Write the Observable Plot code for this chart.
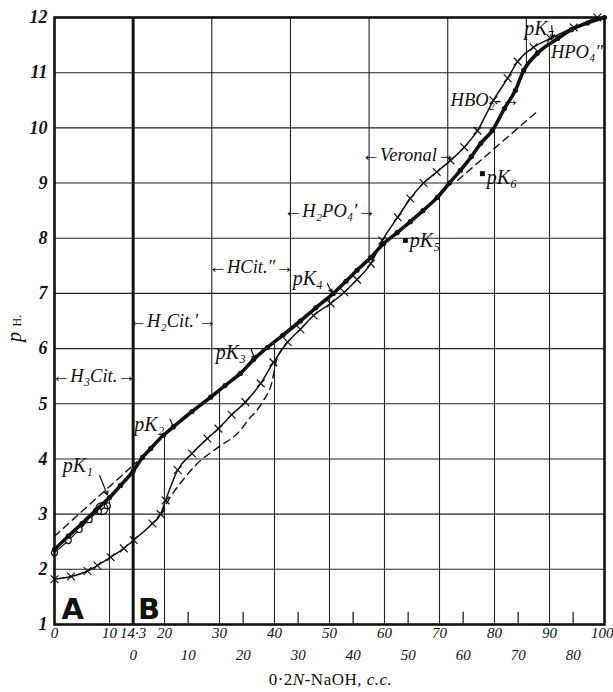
<!DOCTYPE html>
<html><head><meta charset="utf-8">
<script src="https://cdn.jsdelivr.net/npm/d3@7"></script>
<script src="https://cdn.jsdelivr.net/npm/@observablehq/plot@0.6"></script>
<style>
body{margin:0;background:#fff;}
#caption{font-family:"Liberation Serif",serif;font-size:17px;height:24px;line-height:24px;padding-left:48px;text-align:center;color:#111;letter-spacing:0.5px;}
</style>
</head><body>
<div id="chart"></div>
<div id="caption">0·2<i>N</i>-NaOH, <i>c.c.</i></div>
<script>
// ---- data (x = c.c. of 0.2N NaOH on scale A, y = pH) ----
const mainCurve = [[0,2.36],[2.5,2.6],[5,2.83],[7.5,3.07],[10,3.3],[12,3.52],[14.3,3.78],[16,4.03],[17.5,4.19],[19.8,4.43],[21.6,4.58],[25,4.86],[28.4,5.12],[31,5.33],[33.8,5.55],[36.2,5.8],[38.7,6.02],[41.5,6.24],[44.7,6.5],[47.5,6.74],[50.7,7.0],[53,7.22],[55,7.42],[57.5,7.65],[59.8,7.9],[62.3,8.1],[64.7,8.3],[67,8.5],[69.6,8.74],[71.8,9.0],[73.8,9.23],[75.8,9.48],[77.5,9.72],[79.6,9.95],[81.8,10.35],[83.8,10.68],[85.3,11.04],[87.8,11.35],[91.5,11.62],[94,11.78],[96.9,11.9],[100,12.0]];
const crossCurve = [[0,1.82],[3,1.87],[6,1.97],[7.8,2.07],[10.2,2.22],[12.6,2.38],[14.4,2.53],[17.8,2.83],[19.3,3.0],[20.2,3.25],[22.4,3.8],[25,4.1],[27.8,4.37],[29.8,4.55],[32.2,4.8],[34.7,5.03],[37.5,5.37],[39.8,5.75],[42.4,6.12],[44.7,6.35],[47.1,6.6],[50.2,6.82],[52.7,7.02],[55,7.25],[57.5,7.54],[59.6,7.96],[62.4,8.38],[64.7,8.72],[67.1,9.0],[69.5,9.2],[72,9.41],[74.5,9.65],[76.9,9.95],[79.8,10.5],[82.4,10.9],[84.2,11.2],[87.1,11.46],[90.2,11.62],[94.4,11.82],[98.7,12]];
const dashedLow = [[19.3,3.0],[21,3.3],[22.9,3.56],[26,3.92],[29.6,4.2],[33.8,4.52],[35,4.68],[38,5.06],[39.6,5.42],[40.2,5.73],[41.4,6.0],[42.4,6.12]];
const dashedA = [[0,2.6],[15,3.95]];
const dashedHigh = [[73.3,9.05],[87.8,10.3]];
const circleCurve = [[0,2.3],[2.5,2.52],[4.5,2.72],[6.3,2.9],[8,3.05],[9.6,3.15]];
const pK1Circle = [[8.6,3.1]];

const yTicks = [1,2,3,4,5,6,7,8,9,10,11,12];
const aTicks = [0,10,14.3,20,30,40,50,60,70,80,90];
const aLastTick = [100];
const bOffset = 14.3;
const bTicks = [0,10,20,30,40,50,60,70,80];
const lowerGrid = [10,20,30,40,50,60,70,80,90];
const upperGrid = [28.6,42.9,57.2,71.5,85.8];

const species = [
  {x:7.15, y:5.5, t:"←H₃Cit.→"},
  {x:21.45, y:6.5, t:"←H₂Cit.′→"},
  {x:35.75, y:7.48, t:"←HCit.″→"},
  {x:50.05, y:8.5, t:"←H₂PO₄′→"},
  {x:64.35, y:9.5, t:"←Veronal→"},
  {x:78.3, y:10.5, t:"HBO₂-→"},
  {x:95, y:11.38, t:"HPO₄″"}
];
const pKLabels = [
  {x:1.5, y:3.88, t:"pK₁"},
  {x:14.5, y:4.62, t:"pK₂"},
  {x:29.3, y:5.93, t:"pK₃"},
  {x:43.3, y:7.27, t:"pK₄"},
  {x:64.6, y:7.95, t:"pK₅"},
  {x:78.6, y:9.1, t:"pK₆"},
  {x:85.4, y:11.8, t:"pK₇"}
];
const pKArrows = [
  {x1:8.2, y1:3.7, x2:9.6, y2:3.35},
  {x1:21.0, y1:4.72, x2:21.8, y2:4.55},
  {x1:35.7, y1:6.0, x2:36.4, y2:5.82},
  {x1:49.6, y1:7.18, x2:50.4, y2:7.02},
  {x1:90.4, y1:11.85, x2:90.6, y2:11.62}
];
const pKSquares = [[63.8,7.96],[77.8,9.17]];
const panelLetters = [{x:3.3, t:"A"},{x:17.2, t:"B"}];

// piecewise-linear read of the main curve, used to end the grid lines at it
const mainAt = d3.scaleLinear().domain(mainCurve.map(d=>d[0])).range(mainCurve.map(d=>d[1]));

const serif = "Liberation Serif, DejaVu Serif, serif";
const chart = Plot.plot({
  width: 613, height: 668,
  marginLeft: 54, marginRight: 9, marginTop: 17, marginBottom: 44,
  x: {domain:[0,100], axis:null},
  y: {domain:[1,12], axis:null},
  style: {fontFamily: serif, background:"white", color:"#111"},
  marks: [
    Plot.ruleY(d3.range(2,12), {stroke:"#222", strokeWidth:1.1}),
    Plot.ruleX(lowerGrid, {x:d=>d, y1:1, y2:d=>mainAt(d), stroke:"#222", strokeWidth:1.1}),
    Plot.ruleX(upperGrid, {x:d=>d, y1:d=>mainAt(d), y2:12, stroke:"#222", strokeWidth:1.1}),
    Plot.ruleX([bOffset], {stroke:"#111", strokeWidth:3}),
    Plot.ruleX(bTicks.slice(1), {x:d=>d+bOffset, y1:1, y2:1.22, stroke:"#222", strokeWidth:1.3}),
    Plot.line(dashedA, {x:d=>d[0], y:d=>d[1], stroke:"#111", strokeWidth:1.4, strokeDasharray:"7,5"}),
    Plot.line(dashedLow, {x:d=>d[0], y:d=>d[1], curve:"monotone-x", stroke:"#111", strokeWidth:1.4, strokeDasharray:"7,5"}),
    Plot.line(dashedHigh, {x:d=>d[0], y:d=>d[1], stroke:"#111", strokeWidth:1.4, strokeDasharray:"7,5"}),
    Plot.line(circleCurve, {x:d=>d[0], y:d=>d[1], curve:"monotone-x", stroke:"#111", strokeWidth:1.2}),
    Plot.dot(circleCurve, {x:d=>d[0], y:d=>d[1], r:3, stroke:"#111", fill:"white", strokeWidth:1.2}),
    Plot.dot(pK1Circle, {x:d=>d[0], y:d=>d[1], r:6, stroke:"#111", strokeWidth:1.3}),
    Plot.line(crossCurve, {x:d=>d[0], y:d=>d[1], curve:"monotone-x", stroke:"#111", strokeWidth:1.5}),
    Plot.dot(crossCurve, {x:d=>d[0], y:d=>d[1], symbol:"times", r:3.6, stroke:"#111", strokeWidth:1.2}),
    Plot.line(mainCurve, {x:d=>d[0], y:d=>d[1], curve:"monotone-x", stroke:"#111", strokeWidth:3.6}),
    Plot.dot(mainCurve, {x:d=>d[0], y:d=>d[1], r:2.6, fill:"#111"}),
    Plot.frame({stroke:"#111", strokeWidth:2.6}),
    // axis labels
    Plot.text(yTicks, {y:d=>d, frameAnchor:"left", dx:-7, textAnchor:"end", text:d=>String(d), fontSize:18, fontWeight:"bold", fontStyle:"italic"}),
    Plot.text(aTicks, {x:d=>d, frameAnchor:"bottom", dy:13, text:d=>String(d).replace(".", "·"), fontSize:15, fontStyle:"italic"}),
    Plot.text(aLastTick, {x:d=>d, frameAnchor:"bottom", dy:13, dx:9, textAnchor:"end", text:d=>String(d), fontSize:15, fontStyle:"italic"}),
    Plot.text(bTicks, {x:d=>d+bOffset, frameAnchor:"bottom", dy:35, text:d=>String(d), fontSize:15, fontStyle:"italic"}),
    Plot.text(["p"], {frameAnchor:"left", dx:-40, y:6.12, text:d=>d, rotate:-90, fontSize:20, fontStyle:"italic"}),
    Plot.text(["H."], {frameAnchor:"left", dx:-37, y:6.4, text:d=>d, rotate:-90, fontSize:12}),
    // annotations
    Plot.text(species, {x:"x", y:"y", text:"t", fontSize:18.5, fontStyle:"italic"}),
    Plot.text(pKLabels, {x:"x", y:"y", text:"t", textAnchor:"start", fontSize:20, fontStyle:"italic"}),
    Plot.arrow(pKArrows, {x1:"x1", y1:"y1", x2:"x2", y2:"y2", stroke:"#111", strokeWidth:1.2, headLength:5}),
    Plot.dot(pKSquares, {x:d=>d[0], y:d=>d[1], symbol:"square", r:2.8, fill:"#111"}),
    Plot.text(panelLetters, {x:"x", y:1.27, text:"t", fontSize:29, fontWeight:"bold", fontFamily:"DejaVu Sans, sans-serif"})
  ]
});
document.getElementById("chart").append(chart);
</script>
</body></html>
